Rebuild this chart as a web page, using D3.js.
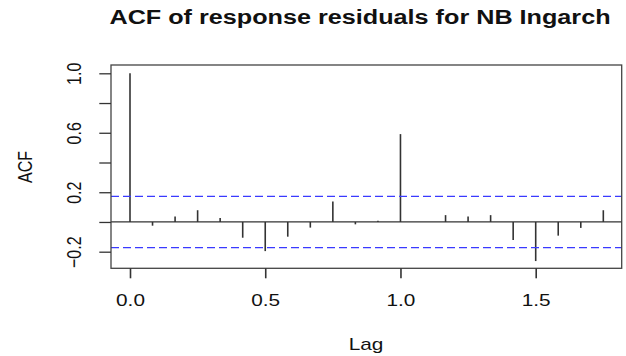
<!DOCTYPE html>
<html>
<head>
<meta charset="utf-8">
<script src="https://cdn.jsdelivr.net/npm/d3@7"></script>
<style>
  html, body { margin: 0; padding: 0; background: #fff; }
  svg { display: block; }
  text { font-family: "Liberation Sans", Arial, Helvetica, sans-serif; fill: #111; }
</style>
</head>
<body>
<svg id="chart" width="626" height="356"></svg>
<script>
// ---- data ----
const title = "ACF of response residuals for NB Ingarch";
const xLabel = "Lag";
const yLabel = "ACF";
const lags = [0, 0.0833, 0.1667, 0.25, 0.3333, 0.4167, 0.5, 0.5833, 0.6667, 0.75, 0.8333,
              0.9167, 1.0, 1.0833, 1.1667, 1.25, 1.3333, 1.4167, 1.5, 1.5833, 1.6667, 1.75];
const acfValues = [1.0, -0.025, 0.036, 0.079, 0.027, -0.106, -0.196, -0.099, -0.038, 0.137, -0.016,
                   0.009, 0.591, 0.0, 0.046, 0.036, 0.046, -0.121, -0.263, -0.092, -0.040, 0.079];
const ciBound = [0.172, -0.172];
const xTicks = [0, 0.5, 1.0, 1.5];
const yTicks = [-0.2, 0, 0.2, 0.4, 0.6, 0.8, 1.0];
const yTickLabels = [-0.2, 0.2, 0.6, 1.0];

// ---- layout ----
const box = { left: 111, right: 621.7, top: 65, bottom: 268.3 };
const SX = 1.3; // horizontal text stretch of the reference

const svg = d3.select("#chart");
const x = d3.scaleLinear().domain([0, 1.5]).range([130, 535.7]);
const y = d3.scaleLinear().domain([-0.2, 1.0]).range([251.7, 73.3]);

// spikes
svg.append("g").selectAll("line").data(lags).join("line")
  .attr("x1", d => x(d)).attr("x2", d => x(d))
  .attr("y1", y(0)).attr("y2", (d, i) => y(acfValues[i]))
  .attr("stroke", "#333").attr("stroke-width", 1.6);

// zero line
svg.append("line")
  .attr("x1", box.left).attr("x2", box.right)
  .attr("y1", y(0)).attr("y2", y(0))
  .attr("stroke", "#333").attr("stroke-width", 1.3);

// confidence bounds
svg.append("g").selectAll("line").data(ciBound).join("line")
  .attr("x1", box.left).attr("x2", box.right)
  .attr("y1", d => y(d)).attr("y2", d => y(d))
  .attr("stroke", "#3a3aff").attr("stroke-width", 1.3)
  .attr("stroke-dasharray", "8,4");

// box
svg.append("rect")
  .attr("x", box.left).attr("y", box.top)
  .attr("width", box.right - box.left).attr("height", box.bottom - box.top)
  .attr("fill", "none").attr("stroke", "#444").attr("stroke-width", 1.3);

// x axis
const gx = svg.append("g").attr("transform", `translate(0,${box.bottom})`)
  .call(d3.axisBottom(x).tickValues(xTicks).tickSize(10).tickFormat(d3.format(".1f")));
gx.select(".domain").remove();
gx.selectAll(".tick line").attr("stroke", "#333").attr("stroke-width", 1.6);
gx.selectAll(".tick text")
  .attr("y", null).attr("dy", null)
  .attr("transform", `translate(0,38) scale(${SX},1)`)
  .style("font-size", "16px").attr("fill", "#111");

// y axis
const gy = svg.append("g").attr("transform", `translate(${box.left},0)`)
  .call(d3.axisLeft(y).tickValues(yTicks).tickSize(11.7)
    .tickFormat(d => yTickLabels.some(v => Math.abs(v - d) < 1e-9) ? d3.format(".1f")(d) : ""));
gy.select(".domain").remove();
gy.selectAll(".tick line").attr("stroke", "#333").attr("stroke-width", 1.3);
gy.selectAll(".tick text")
  .attr("x", null).attr("dy", null)
  .attr("text-anchor", "middle")
  .attr("transform", `translate(${81 - box.left},0) scale(${SX},1) rotate(-90)`)
  .style("font-size", "16px").attr("fill", "#111");

// axis titles
svg.append("text")
  .attr("transform", `translate(366,350) scale(${SX},1)`)
  .attr("text-anchor", "middle").style("font-size", "16px")
  .text(xLabel);
svg.append("text")
  .attr("transform", `translate(31.7,167) scale(${SX},1) rotate(-90)`)
  .attr("text-anchor", "middle").style("font-size", "16px")
  .text(yLabel);

// main title
svg.append("text")
  .attr("transform", `translate(360,24) scale(1.2,1)`)
  .attr("text-anchor", "middle").style("font-size", "21px").style("font-weight", "bold")
  .text(title);
</script>
</body>
</html>
